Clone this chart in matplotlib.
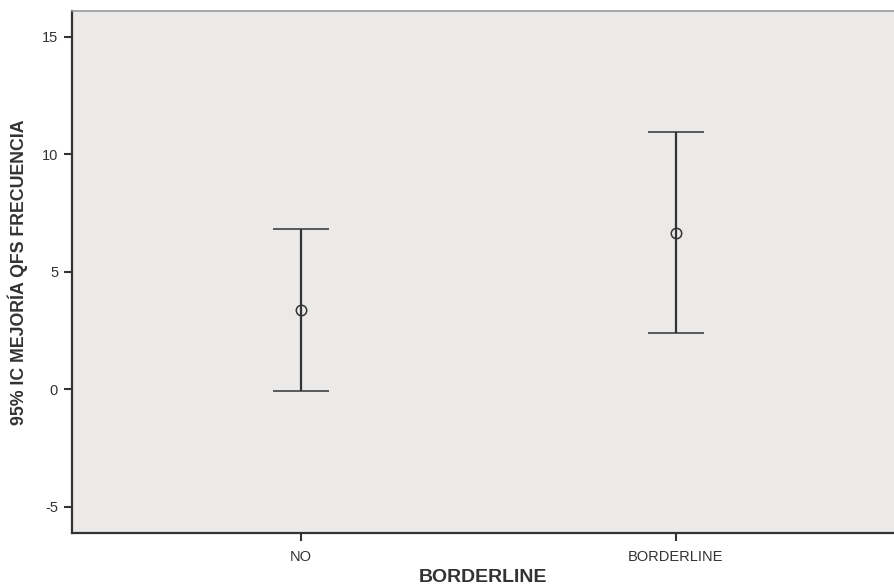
import matplotlib.pyplot as plt
from matplotlib.ticker import FuncFormatter

plt.rcParams['font.family'] = ['Liberation Sans', 'DejaVu Sans']

# data
groups = ['NO', 'BORDERLINE']
means = [3.38, 6.66]
lower = [-0.06, 2.41]
upper = [6.82, 10.93]
yticks = [-5, 0, 5, 10, 15]

fig = plt.figure(figsize=(8.94, 5.88), dpi=100)
ax = fig.add_axes([72 / 894, 55 / 588, 1 - 72 / 894, (533 - 11) / 588])
ax.set_facecolor('#ebeae8')

line_col = '#333333'
xs = list(range(len(groups)))
err = [[m - lo for m, lo in zip(means, lower)], [hi - m for m, hi in zip(means, upper)]]
ax.errorbar(xs, means, yerr=err, fmt='o', mfc='none', mec=line_col, ms=7.5, mew=1.1,
            ecolor=line_col, elinewidth=1.6, capsize=20.5, capthick=1.3)

ax.set_xlim(-0.611, 1.583)
ax.set_ylim(-6.12, 16.1)
ax.set_xticks(xs)
ax.set_xticklabels(groups)
ax.set_yticks(yticks)
ax.yaxis.set_major_formatter(FuncFormatter(lambda v, p: '%d' % v))
ax.tick_params(direction='out', length=6, width=1.5, color=line_col,
               labelsize=10.5, labelcolor='#333333', pad=4)
ax.tick_params(axis='x', pad=6)

for s in ['left', 'bottom']:
    ax.spines[s].set_color(line_col)
    ax.spines[s].set_linewidth(1.6)
ax.spines['top'].set_color('#999999')
ax.spines['top'].set_linewidth(1.2)
ax.spines['right'].set_visible(False)

fig.text(483 / 894, 1 - 577 / 588, 'BORDERLINE', fontsize=14, fontweight='bold',
         color='#333333', ha='center', va='center')
fig.text(18 / 894, 1 - 272 / 588, '95% IC MEJORÍA QFS FRECUENCIA', fontsize=12.8,
         fontweight='bold', color='#333333', ha='center', va='center', rotation=90)

fig.savefig('out.png', dpi=100)
